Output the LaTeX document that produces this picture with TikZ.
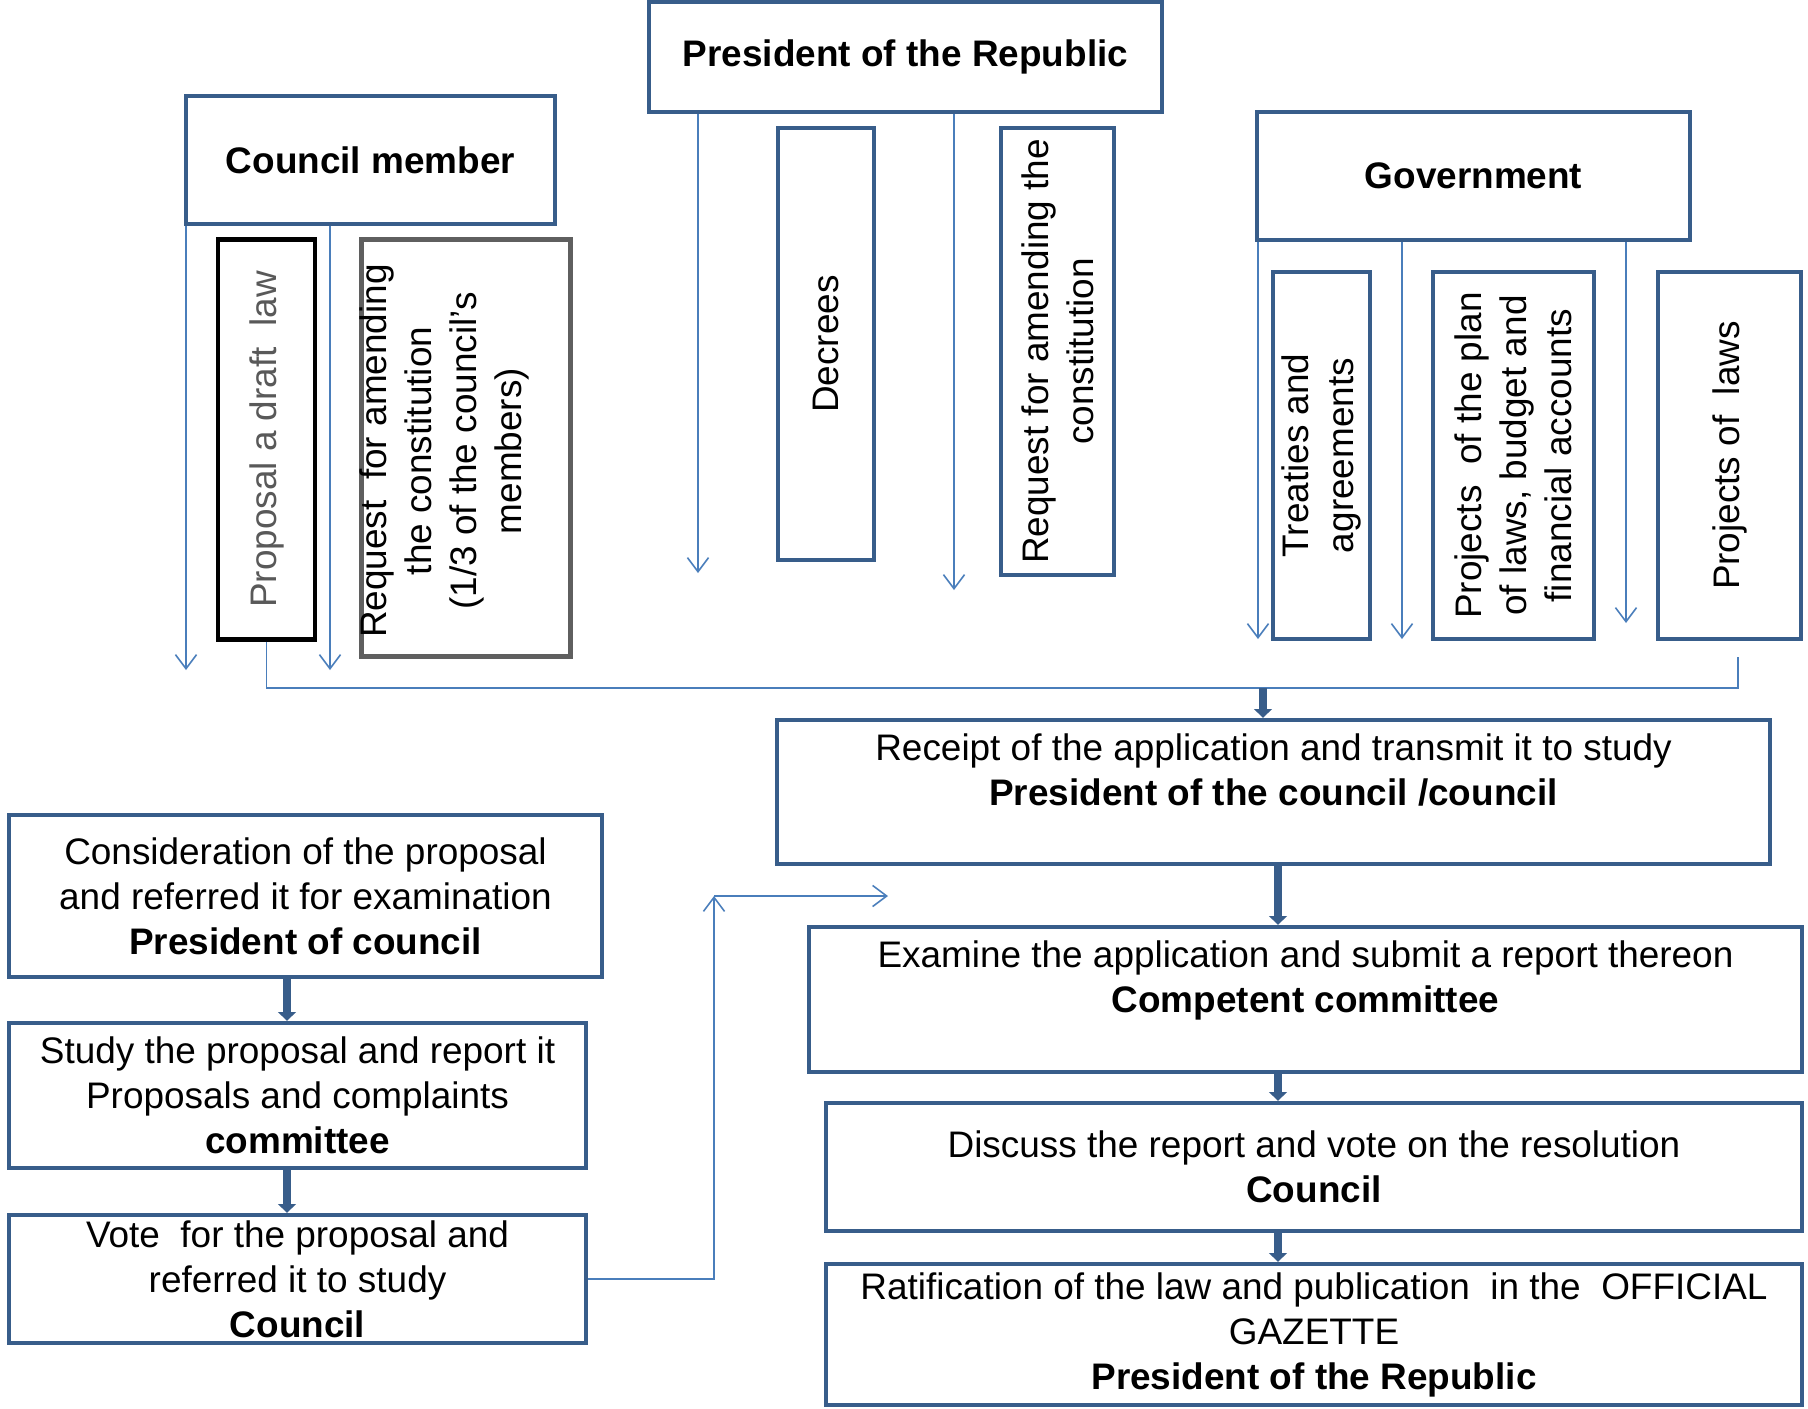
\documentclass[tikz,border=0pt]{standalone}
\usepackage{fontspec}
\setmainfont{Liberation Sans}
\usepackage{xcolor}
\usepackage{tikz}
\usetikzlibrary{arrows.meta,positioning,calc}
\definecolor{boxblue}{RGB}{56,93,138}
\definecolor{lineblue}{RGB}{74,126,187}
\definecolor{textgray}{RGB}{89,89,89}
\definecolor{framegray}{RGB}{95,95,95}

\begin{document}
\begin{tikzpicture}[
  x=0.01cm, y=-0.01cm,
  every node/.style={font=\fontsize{10.5}{12.8}\selectfont, inner sep=0pt, align=center},
  box/.style={draw=boxblue, line width=1.2pt, fill=white},
  vbox/.style={box, rotate=90},
  head/.style={font=\fontsize{10.5}{12.8}\selectfont\bfseries},
  flow/.style={draw=lineblue, line width=0.45pt, -{Straight Barb[length=4pt,width=6pt]}},
  link/.style={draw=lineblue, line width=0.45pt},
  pipe/.style={draw=boxblue, line width=2.3pt, -{Triangle[length=2.5pt,width=5pt]}}
]
  \fill[white] (0,0) rectangle (1808,1408);
  \useasboundingbox (0,0) rectangle (1808,1408);
  % sources
  \node[box, head, minimum width=5.13cm, minimum height=1.10cm] (pres) at (905.5,57) {President of the Republic};
  \node[box, head, minimum width=3.69cm, minimum height=1.28cm] (council) at (370.5,160) {Council member};
  \node[box, head, minimum width=4.33cm, minimum height=1.28cm] (govt) at (1473.5,176) {Government};
  % kinds of request
  \node[vbox, draw=black, line width=1.4pt, text=textgray, minimum width=3.99cm, minimum height=0.97cm] (draft) at (266.5,439.5) {Proposal a draft~~law};
  \node[vbox, draw=framegray, line width=1.4pt, minimum width=4.16cm, minimum height=2.08cm] (creq) at (466,448) {};
  \node[rotate=90] (creqtext) at (444,451) {Request~~for amending\\the constitution\\(1/3 of the council’s\\members)};
  \node[vbox, minimum width=4.32cm, minimum height=0.96cm] (decrees) at (826,344) {Decrees};
  \node[vbox, minimum width=4.47cm, minimum height=1.13cm] (preq) at (1057.5,351.5) {Request for amending the\\constitution};
  \node[vbox, minimum width=3.67cm, minimum height=0.97cm] (treaties) at (1321.5,455.5) {Treaties and\\agreements};
  \node[vbox, minimum width=3.67cm, minimum height=1.61cm] (plan) at (1513.5,455.5) {Projects~~of the plan\\of laws, budget and\\financial accounts};
  \node[vbox, minimum width=3.67cm, minimum height=1.43cm] (laws) at (1729.5,455.5) {Projects of~~laws};
  % main procedure
  \node[box, minimum width=9.93cm, minimum height=1.44cm] (receipt) at (1273.5,792) {Receipt of the application and transmit it to study\\\textbf{President of the council /council}\\\mbox{}};
  \node[box, minimum width=9.93cm, minimum height=1.45cm] (examine) at (1305.5,999.5) {Examine the application and submit a report thereon\\\textbf{Competent committee}\\\mbox{}};
  \node[box, minimum width=9.76cm, minimum height=1.28cm] (discuss) at (1314,1167) {Discuss the report and vote on the resolution\\\textbf{Council}};
  \node[box, minimum width=9.76cm, minimum height=1.41cm] (ratify) at (1314,1334.5) {Ratification of the law and publication~~in the~~OFFICIAL\\GAZETTE\\\textbf{President of the Republic}};
  % proposal procedure
  \node[box, minimum width=5.93cm, minimum height=1.62cm] (consider) at (305.5,896) {Consideration of the proposal\\and referred it for examination\\\textbf{President of council}};
  \node[box, minimum width=5.77cm, minimum height=1.45cm] (study) at (297.5,1095.5) {Study the proposal and report it\\Proposals and complaints\\\textbf{committee}};
  \node[box, minimum width=5.77cm, minimum height=1.28cm] (vote) at (297.5,1279) {Vote~~for the proposal and\\referred it to study\\\textbf{Council}};

  \coordinate (cmA) at (186,670);\coordinate (cmB) at (330,670);
  \coordinate (prA) at (698,573);\coordinate (prB) at (954,590);
  \coordinate (gvA) at (1258,639);\coordinate (gvB) at (1402,639);\coordinate (gvC) at (1626,623);
  \foreach \src/\tip in {council/cmA,council/cmB,pres/prA,pres/prB,govt/gvA,govt/gvB,govt/gvC}
    \draw[flow] (\tip |- \src.south) -- (\tip);

  \coordinate (lawsfoot) at (1738,657);\coordinate (collect) at (1263,688);
  \draw[link] (draft.west) |- (collect) -| (lawsfoot);
  \draw[pipe] (collect) -- (collect |- receipt.north);

  \coordinate (spine) at (1278,0);
  \draw[pipe] (spine |- receipt.south) -- (spine |- examine.north);
  \draw[pipe] (spine |- examine.south) -- (spine |- discuss.north);
  \draw[pipe] (spine |- discuss.south) -- (spine |- ratify.north);

  \coordinate (lspine) at (287,0);
  \draw[pipe] (lspine |- consider.south) -- (lspine |- study.north);
  \draw[pipe] (lspine |- study.south) -- (lspine |- vote.north);

  \coordinate (turn) at (714,896);\coordinate (hook) at (888,896);
  \draw[flow] (vote.east) -| (turn);
  \draw[flow] (turn) -- (hook);
\end{tikzpicture}
\end{document}
